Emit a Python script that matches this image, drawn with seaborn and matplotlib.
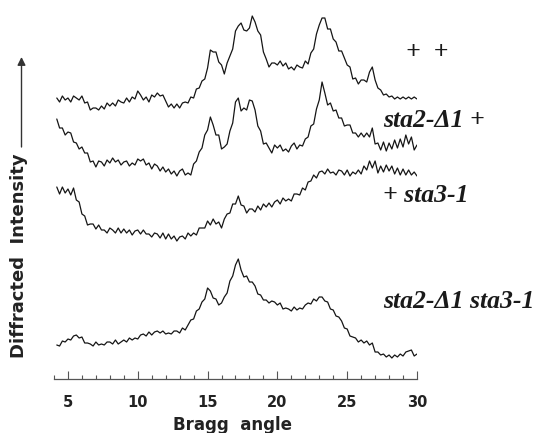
import numpy as np
import pandas as pd
import seaborn as sns
import matplotlib.pyplot as plt
from matplotlib.ticker import MultipleLocator

# Bragg angle (degrees 2-theta) of the scan points
angles = [
    4.2, 4.4, 4.6, 4.8, 5.0, 5.2, 5.4, 5.6, 5.8, 6.0,
    6.2, 6.4, 6.6, 6.8, 7.0, 7.2, 7.4, 7.6, 7.8, 8.0,
    8.2, 8.4, 8.6, 8.8, 9.0, 9.2, 9.4, 9.6, 9.8, 10.0,
    10.2, 10.4, 10.6, 10.8, 11.0, 11.2, 11.4, 11.6, 11.8, 12.0,
    12.2, 12.4, 12.6, 12.8, 13.0, 13.2, 13.4, 13.6, 13.8, 14.0,
    14.2, 14.4, 14.6, 14.8, 15.0, 15.2, 15.4, 15.6, 15.8, 16.0,
    16.2, 16.4, 16.6, 16.8, 17.0, 17.2, 17.4, 17.6, 17.8, 18.0,
    18.2, 18.4, 18.6, 18.8, 19.0, 19.2, 19.4, 19.6, 19.8, 20.0,
    20.2, 20.4, 20.6, 20.8, 21.0, 21.2, 21.4, 21.6, 21.8, 22.0,
    22.2, 22.4, 22.6, 22.8, 23.0, 23.2, 23.4, 23.6, 23.8, 24.0,
    24.2, 24.4, 24.6, 24.8, 25.0, 25.2, 25.4, 25.6, 25.8, 26.0,
    26.2, 26.4, 26.6, 26.8, 27.0, 27.2, 27.4, 27.6, 27.8, 28.0,
    28.2, 28.4, 28.6, 28.8, 29.0, 29.2, 29.4, 29.6, 29.8, 30.0,
]

# diffracted intensity (arbitrary units, traces already offset as stacked)
wild_type = [
    281, 277, 283, 279, 281, 277, 283, 281, 279, 283,
    276, 277, 269, 271, 271, 269, 273, 270, 276, 273,
    276, 273, 279, 277, 276, 281, 277, 282, 280, 288,
    284, 279, 282, 277, 284, 282, 286, 283, 284, 278,
    272, 275, 271, 275, 271, 276, 277, 276, 282, 281,
    290, 291, 298, 300, 311, 329, 327, 327, 317, 314,
    305, 316, 323, 330, 348, 353, 356, 349, 348, 351,
    363, 357, 348, 344, 327, 320, 312, 316, 316, 314,
    318, 313, 316, 310, 312, 309, 314, 312, 311, 318,
    315, 326, 330, 345, 354, 361, 361, 350, 350, 340,
    337, 328, 328, 321, 314, 312, 300, 301, 295, 299,
    299, 297, 307, 312, 299, 291, 289, 284, 285, 282,
    283, 280, 282, 280, 282, 280, 282, 280, 282, 280,
]
sta2_single = [
    260, 251, 251, 244, 247, 246, 237, 236, 230, 232,
    226, 226, 217, 218, 212, 218, 217, 213, 219, 216,
    221, 217, 219, 214, 217, 218, 213, 216, 214, 220,
    218, 220, 214, 216, 210, 215, 213, 208, 212, 207,
    210, 205, 208, 203, 208, 210, 204, 206, 204, 215,
    218, 227, 231, 244, 249, 262, 254, 244, 244, 230,
    232, 235, 248, 256, 277, 281, 268, 271, 269, 279,
    278, 269, 253, 248, 235, 236, 231, 226, 234, 231,
    234, 228, 230, 227, 233, 236, 230, 234, 233, 240,
    242, 253, 255, 270, 279, 297, 286, 274, 276, 268,
    269, 261, 261, 253, 254, 254, 246, 246, 242, 246,
    242, 246, 242, 251, 235, 236, 229, 237, 228, 236,
    230, 239, 231, 240, 232, 244, 235, 242, 229, 234,
]
sta3_single = [
    192, 185, 192, 186, 190, 184, 191, 179, 177, 165,
    163, 154, 155, 155, 150, 154, 149, 149, 146, 151,
    149, 146, 151, 146, 150, 146, 149, 144, 148, 149,
    145, 149, 145, 145, 142, 146, 145, 141, 146, 140,
    145, 140, 143, 138, 142, 143, 140, 146, 143, 146,
    144, 151, 151, 151, 158, 154, 160, 155, 157, 151,
    160, 165, 166, 175, 175, 183, 174, 173, 166, 170,
    170, 167, 173, 169, 175, 172, 176, 172, 177, 179,
    175, 181, 178, 180, 178, 185, 185, 184, 191, 189,
    197, 198, 204, 201, 207, 208, 205, 210, 206, 207,
    204, 209, 208, 204, 209, 203, 207, 205, 209, 205,
    213, 209, 218, 211, 218, 206, 213, 207, 214, 208,
    213, 205, 211, 204, 210, 204, 209, 204, 207, 203,
]
double_mutant = [
    34, 33, 38, 37, 40, 39, 43, 44, 41, 42,
    36, 36, 35, 33, 37, 34, 35, 34, 37, 37,
    35, 39, 35, 37, 39, 37, 41, 39, 41, 40,
    44, 45, 43, 47, 44, 47, 48, 46, 48, 45,
    46, 45, 48, 48, 46, 51, 49, 54, 59, 60,
    68, 70, 77, 80, 91, 88, 81, 80, 74, 76,
    82, 86, 98, 103, 114, 120, 109, 102, 103, 97,
    97, 93, 85, 84, 79, 79, 76, 78, 77, 74,
    76, 70, 71, 70, 68, 72, 69, 71, 70, 74,
    76, 75, 80, 78, 82, 82, 78, 77, 70, 69,
    63, 62, 58, 51, 50, 43, 42, 41, 37, 39,
    36, 38, 34, 36, 27, 27, 24, 25, 22, 24,
    21, 24, 22, 25, 23, 27, 28, 29, 23, 25,
]

genotypes = ["+  +", "sta2-Δ1 +", "+ sta3-1", "sta2-Δ1 sta3-1"]
traces = [wild_type, sta2_single, sta3_single, double_mutant]

df = pd.concat(
    [pd.DataFrame({"angle": angles, "intensity": vals, "genotype": g})
     for g, vals in zip(genotypes, traces)],
    ignore_index=True,
)

sns.set_theme(style="white")
plt.rcParams["font.family"] = ["DejaVu Sans"]

fig = plt.figure(figsize=(5.4, 4.33), dpi=100)
ax = fig.add_axes([0.1, 0.1247, 0.6722, 0.8753])

sns.lineplot(data=df, x="angle", y="intensity", units="genotype",
             estimator=None, color="#151515", lw=0.9, ax=ax)

ax.set_xlim(4, 30)
ax.set_ylim(0, 379)

for side in ["left", "top", "right"]:
    ax.spines[side].set_visible(False)
ax.spines["bottom"].set_color("#555555")
ax.spines["bottom"].set_linewidth(0.9)

ax.xaxis.set_major_locator(MultipleLocator(5))
ax.xaxis.set_minor_locator(MultipleLocator(1))
ax.tick_params(axis="x", which="major", direction="in", length=5.5,
               width=0.8, color="#555555", pad=11.5, labelsize=10.5,
               labelcolor="#222222", bottom=True)
ax.tick_params(axis="x", which="minor", direction="in", length=2.6,
               width=0.8, color="#555555", bottom=True)
ax.set_yticks([])
plt.setp(ax.get_xticklabels(), fontweight="bold")

ax.set_xlabel("Bragg  angle", fontsize=12, fontweight="bold", color="#222222")
ax.xaxis.set_label_coords(0.493, -0.097)
ax.set_ylabel("Diffracted  Intensity", fontsize=13, fontweight="bold",
              color="#222222")
ax.yaxis.set_label_coords(-0.071, 0.326)

# arrow beside the intensity label
ax.annotate("", xy=(21.5, 376), xytext=(21.5, 286),
            xycoords="figure pixels", textcoords="figure pixels",
            arrowprops=dict(arrowstyle="-|>", color="#333333", lw=1.0,
                            mutation_scale=12, shrinkA=0, shrinkB=0))

# genotype labels next to each trace
label_font = dict(family="Liberation Serif", style="italic",
                  weight="bold", size=18.5, color="#1a1a1a", va="center")
label_pos = [(29.2, 327), (27.6, 259), (27.6, 184), (27.6, 78)]
for g, (lx, ly) in zip(genotypes, label_pos):
    ax.text(lx, ly, g, **label_font)

fig.savefig("out.png", dpi=100, facecolor="white")
